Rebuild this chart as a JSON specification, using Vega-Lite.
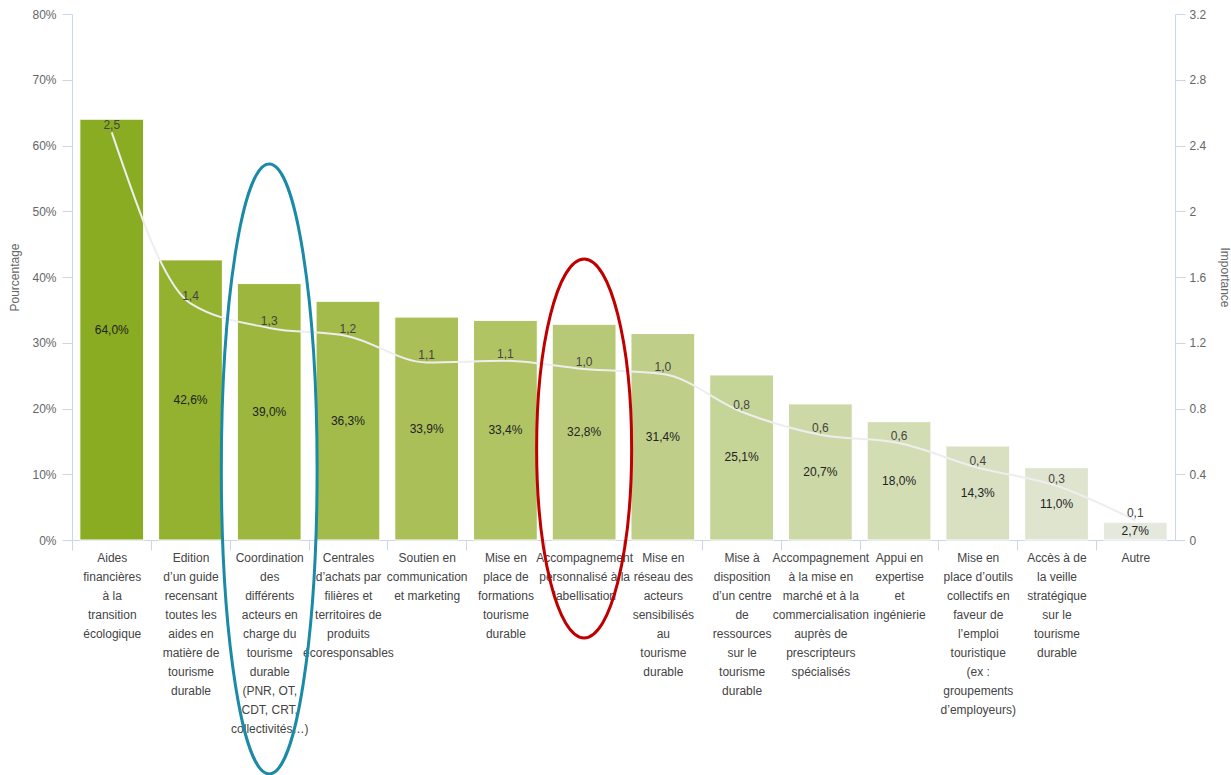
{
  "$schema": "https://vega.github.io/schema/vega-lite/v6.json",
  "width": 1103,
  "height": 526,
  "autosize": {"type": "none"},
  "padding": {"left": 72, "top": 14, "right": 56, "bottom": 235},
  "background": "white",
  "config": {
    "view": {"stroke": null},
    "font": "Liberation Sans",
    "axis": {"grid": false},
    "locale": {"number": {"decimal": ",", "thousands": "\u00a0", "grouping": [3], "currency": ["", " €"]}}
  },
  "data": {
    "values": [
      {"rank": 1, "cat": "Aides|financières|à la|transition|écologique", "pct": 0.640, "imp": 2.48},
      {"rank": 2, "cat": "Edition|d’un guide|recensant|toutes les|aides en|matière de|tourisme|durable", "pct": 0.426, "imp": 1.44},
      {"rank": 3, "cat": "Coordination|des|différents|acteurs en|charge du|tourisme|durable|(PNR, OT,|CDT, CRT,|collectivités…)", "pct": 0.390, "imp": 1.29},
      {"rank": 4, "cat": "Centrales|d’achats par|filières et|territoires de|produits|écoresponsables", "pct": 0.363, "imp": 1.24},
      {"rank": 5, "cat": "Soutien en|communication|et marketing", "pct": 0.339, "imp": 1.08},
      {"rank": 6, "cat": "Mise en|place de|formations|tourisme|durable", "pct": 0.334, "imp": 1.09},
      {"rank": 7, "cat": "Accompagnement|personnalisé à la|labellisation", "pct": 0.328, "imp": 1.04},
      {"rank": 8, "cat": "Mise en|réseau des|acteurs|sensibilisés|au|tourisme|durable", "pct": 0.314, "imp": 1.01},
      {"rank": 9, "cat": "Mise à|disposition|d’un centre|de|ressources|sur le|tourisme|durable", "pct": 0.251, "imp": 0.78},
      {"rank": 10, "cat": "Accompagnement|à la mise en|marché et à la|commercialisation|auprès de|prescripteurs|spécialisés", "pct": 0.207, "imp": 0.64},
      {"rank": 11, "cat": "Appui en|expertise|et|ingénierie", "pct": 0.180, "imp": 0.59},
      {"rank": 12, "cat": "Mise en|place d’outils|collectifs en|faveur de|l’emploi|touristique|(ex :|groupements|d’employeurs)", "pct": 0.143, "imp": 0.44},
      {"rank": 13, "cat": "Accès à de|la veille|stratégique|sur le|tourisme|durable", "pct": 0.110, "imp": 0.33},
      {"rank": 14, "cat": "Autre", "pct": 0.027, "imp": 0.12}
    ]
  },
  "encoding": {
    "x": {
      "field": "cat", "type": "nominal", "sort": null,
      "scale": {"paddingInner": 0.19, "paddingOuter": 0.1},
      "axis": {
        "title": null,
        "labelExpr": "datum.value ? split(datum.value, '|') : ''",
        "labelAngle": 0,
        "labelAlign": "center",
        "labelBaseline": "top",
        "labelFontSize": 12,
        "labelLineHeight": 19,
        "labelColor": "#444444",
        "labelPadding": 2,
        "labelOverlap": false,
        "labelLimit": 200,
        "labelBound": false,
        "bandPosition": 0,
        "tickExtra": true,
        "tickOffset": -7.5,
        "labelOffset": 7.5,
        "tickSize": 10,
        "tickColor": "#ccd6eb",
        "domainColor": "#ccd6eb"
      }
    }
  },
  "layer": [
    {
      "mark": {"type": "bar", "stroke": "white", "strokeWidth": 1},
      "encoding": {
        "y": {
          "field": "pct", "type": "quantitative",
          "scale": {"domain": [0, 0.8], "nice": false},
          "axis": {
            "orient": "left",
            "title": "Pourcentage",
            "values": [0, 0.1, 0.2, 0.3, 0.4, 0.5, 0.6, 0.7, 0.8],
            "format": ".0%",
            "labelFontSize": 12,
            "labelColor": "#666666",
            "labelPadding": 6,
            "tickSize": 10,
            "tickColor": "#ccd6eb",
            "domainColor": "#ccd6eb",
            "titleFontSize": 12,
            "titleFontWeight": "normal",
            "titleColor": "#666666",
            "titlePadding": 10
          }
        },
        "color": {
          "field": "rank", "type": "ordinal", "legend": null,
          "scale": {"range": ["#8aac22", "#94b130", "#9cb63e", "#a3bb4b", "#aabf58", "#b0c464", "#b7c977", "#bfcf89", "#c5d497", "#ccd8a5", "#d3ddb3", "#d9e0c2", "#dfe4cf", "#e5e8dc"]}
        }
      }
    },
    {
      "mark": {"type": "text", "fontSize": 12, "color": "#222222", "baseline": "middle"},
      "encoding": {
        "y": {"field": "pct", "type": "quantitative", "scale": {"domain": [0, 1.6], "nice": false}, "axis": null},
        "text": {"field": "pct", "type": "quantitative", "format": ".1%"}
      }
    },
    {
      "mark": {"type": "line", "interpolate": "monotone", "color": "#eeeeee", "strokeWidth": 2},
      "encoding": {
        "y": {
          "field": "imp", "type": "quantitative",
          "scale": {"domain": [0, 3.2], "nice": false},
          "axis": {
            "orient": "right",
            "title": "Importance",
            "values": [0, 0.4, 0.8, 1.2, 1.6, 2, 2.4, 2.8, 3.2],
            "format": ".1~f",
            "labelExpr": "replace(datum.label, ',', '.')",
            "labelFontSize": 12,
            "labelColor": "#666666",
            "labelPadding": 4,
            "tickSize": 10,
            "tickColor": "#ccd6eb",
            "domainColor": "#ccd6eb",
            "titleFontSize": 12,
            "titleFontWeight": "normal",
            "titleColor": "#666666",
            "titlePadding": 12
          }
        }
      }
    },
    {
      "mark": {"type": "text", "fontSize": 12, "color": "#444444", "baseline": "middle", "dy": -7},
      "encoding": {
        "y": {"field": "imp", "type": "quantitative", "scale": {"domain": [0, 3.2], "nice": false}, "axis": null},
        "text": {"field": "imp", "type": "quantitative", "format": ".1f"}
      }
    },
    {
      "data": {"values": [{"cat": "Coordination|des|différents|acteurs en|charge du|tourisme|durable|(PNR, OT,|CDT, CRT,|collectivités…)", "center": 0.108}]},
      "mark": {
        "type": "point", "filled": false, "opacity": 1, "strokeWidth": 3, "color": "#1a8aa6",
        "size": 372100,
        "shape": "M 0 -1 C 0.0867 -1 0.157 -0.5523 0.157 0 C 0.157 0.5523 0.0867 1 0 1 C -0.0867 1 -0.157 0.5523 -0.157 0 C -0.157 -0.5523 -0.0867 -1 0 -1 Z"
      },
      "encoding": {
        "y": {"field": "center", "type": "quantitative", "scale": {"domain": [0, 0.8], "nice": false}, "axis": null}
      }
    },
    {
      "data": {"values": [{"cat": "Accompagnement|personnalisé à la|labellisation", "center": 0.1392}]},
      "mark": {
        "type": "point", "filled": false, "opacity": 1, "strokeWidth": 3, "color": "#c00000",
        "size": 143641,
        "shape": "M 0 -1 C 0.1385 -1 0.2507 -0.5523 0.2507 0 C 0.2507 0.5523 0.1385 1 0 1 C -0.1385 1 -0.2507 0.5523 -0.2507 0 C -0.2507 -0.5523 -0.1385 -1 0 -1 Z"
      },
      "encoding": {
        "y": {"field": "center", "type": "quantitative", "scale": {"domain": [0, 0.8], "nice": false}, "axis": null}
      }
    }
  ],
  "resolve": {"scale": {"y": "independent", "color": "independent"}, "axis": {"y": "independent"}}
}
